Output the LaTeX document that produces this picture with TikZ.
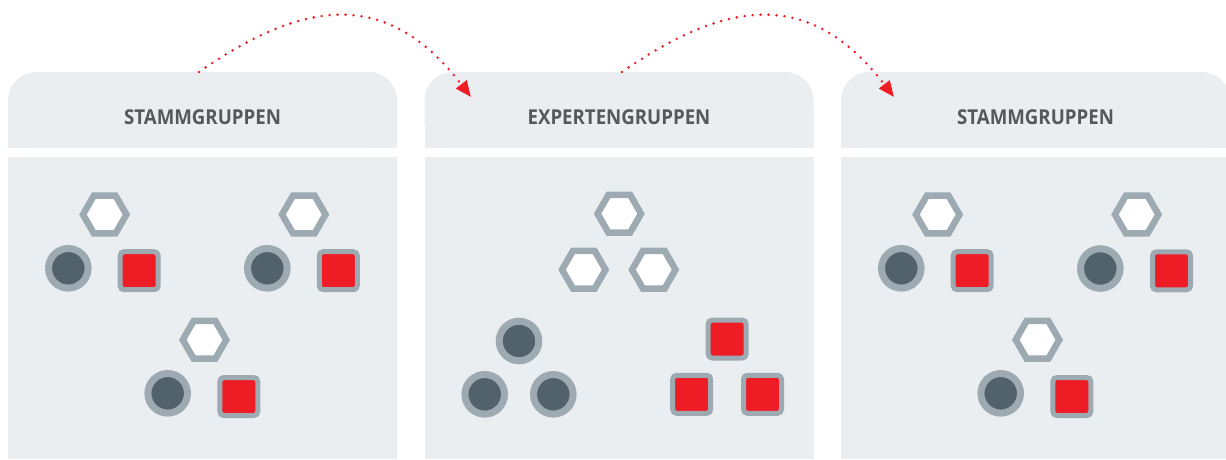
\documentclass[tikz,border=0pt]{standalone}
\usepackage{fontspec}
\setmainfont{Open Sans}
\usetikzlibrary{shapes.geometric,arrows.meta}
\definecolor{panelbg}{HTML}{EBEEF1}
\definecolor{ringgray}{HTML}{9DAAB2}
\definecolor{darkdot}{HTML}{51626C}
\definecolor{redsq}{HTML}{EE1C25}
\definecolor{hdrtext}{HTML}{56585A}
\newcommand{\hdrtxt}[1]{\scalebox{0.91}[1]{#1}}
\begin{document}
\begin{tikzpicture}[x=1pt,y=-1pt,
  hexa/.style={regular polygon,regular polygon sides=6,minimum size=43.5pt,inner sep=0pt,
    draw=ringgray,line width=6.5pt,fill=white},
  dotc/.style={circle,minimum size=39.6pt,inner sep=0pt,draw=ringgray,line width=7pt,fill=darkdot},
  sqr/.style={rectangle,minimum size=38pt,inner sep=0pt,draw=ringgray,line width=5pt,fill=redsq,rounded corners=4pt},
  hdr/.style={font=\bfseries\fontsize{20.5}{24}\selectfont,text=hdrtext,inner sep=0pt},
  hop/.style={draw=redsq,line width=2.8pt,line cap=round,dash pattern=on 0pt off 8pt,
    -{Triangle[length=16pt,width=13pt,line cap=butt]}}
]
\useasboundingbox (0,0) rectangle (1226,459);
% panels
\foreach \px in {8,424.5,841}{
  \fill[panelbg,rounded corners=28pt] (\px,72) rectangle ++(389,76);
  \fill[panelbg] (\px,110) rectangle ++(389,38);
  \fill[panelbg] (\px,157) rectangle ++(389,301.5);
}
% headers
\node[hdr] (h1) at (202.5,117) {\hdrtxt{STAMMGRUPPEN}};
\node[hdr] (h2) at (619,117) {\hdrtxt{EXPERTENGRUPPEN}};
\node[hdr] (h3) at (1035.5,117) {\hdrtxt{STAMMGRUPPEN}};
% panel 1
\node[hexa] (p1ha) at (104.7,214.5) {};
\node[dotc] (p1ca) at (68.3,268.3) {};
\node[sqr]  (p1sa) at (139.2,270.7) {};
\node[hexa] (p1hb) at (303.8,214.5) {};
\node[dotc] (p1cb) at (267.3,268.3) {};
\node[sqr]  (p1sb) at (338.3,270.7) {};
\node[hexa] (p1hc) at (204.5,339.8) {};
\node[dotc] (p1cc) at (167.7,393.3) {};
\node[sqr]  (p1sc) at (238.8,396.5) {};
% panel 2
\node[hexa] (p2h1) at (619.3,213.7) {};
\node[hexa] (p2h2) at (583.8,269.7) {};
\node[hexa] (p2h3) at (653.8,269.7) {};
\node[dotc] (p2c1) at (519,341) {};
\node[dotc] (p2c2) at (484.7,394.3) {};
\node[dotc] (p2c3) at (553.3,394.3) {};
\node[sqr]  (p2s1) at (727.2,339) {};
\node[sqr]  (p2s2) at (691.7,394.3) {};
\node[sqr]  (p2s3) at (762.5,394.3) {};
% panel 3
\node[hexa] (p3ha) at (937.7,214.5) {};
\node[dotc] (p3ca) at (901.3,268.3) {};
\node[sqr]  (p3sa) at (972.2,270.7) {};
\node[hexa] (p3hb) at (1136.7,214.5) {};
\node[dotc] (p3cb) at (1100.3,268.5) {};
\node[sqr]  (p3sb) at (1171.5,270.8) {};
\node[hexa] (p3hc) at (1037.5,339.8) {};
\node[dotc] (p3cc) at (1000.7,393.3) {};
\node[sqr]  (p3sc) at (1071.8,396.5) {};
% arrows
\coordinate (a1s) at (199,72);
\coordinate (a1e) at (471,97);
\coordinate (a2s) at (622,72);
\coordinate (a2e) at (894,97);
\draw[hop] (a1s) .. controls ++(112,-78) and ++(-80,-104) .. (a1e);
\draw[hop] (a2s) .. controls ++(112,-78) and ++(-80,-104) .. (a2e);
\end{tikzpicture}
\end{document}
